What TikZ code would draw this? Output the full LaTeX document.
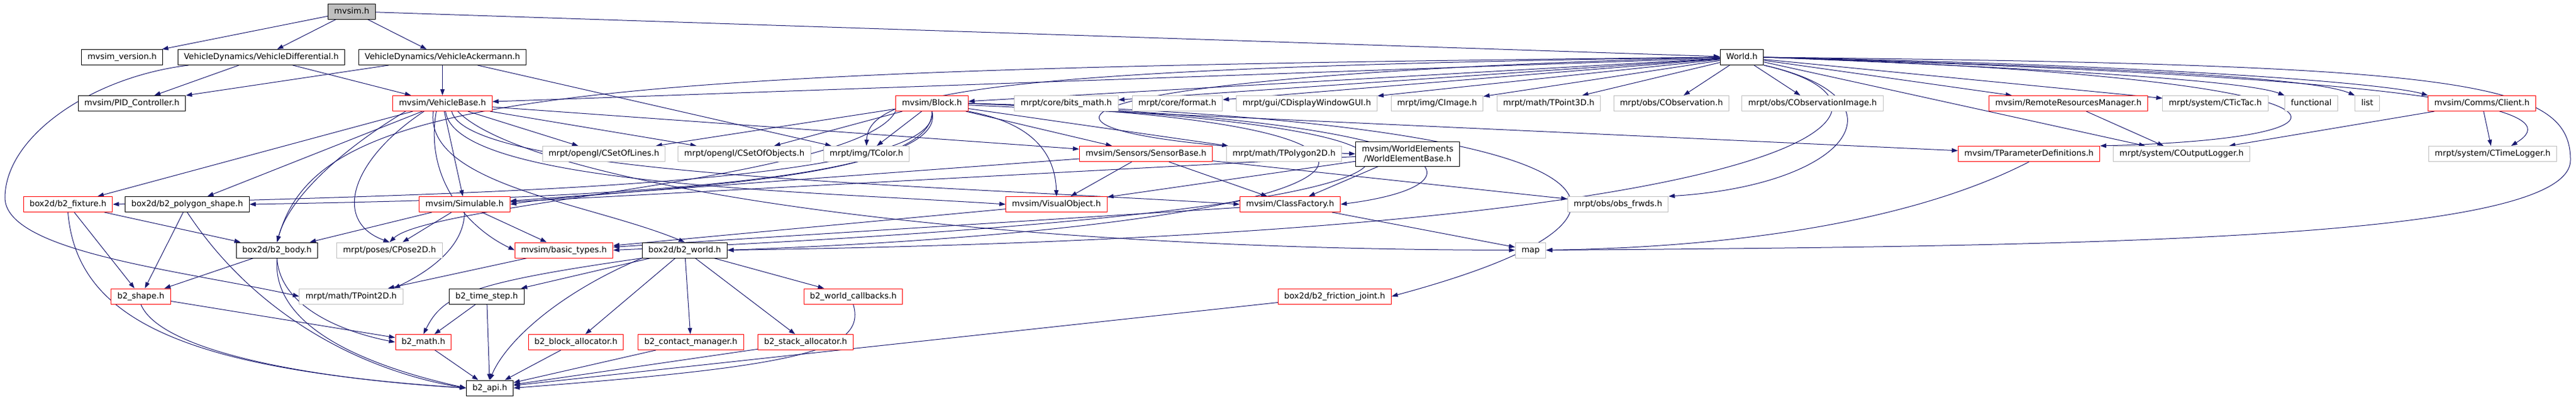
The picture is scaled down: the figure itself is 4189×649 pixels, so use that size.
\documentclass[tikz,border=0pt]{standalone}
\usepackage{fontspec}
\usepackage{xcolor}
\usepackage{tikz}
\usetikzlibrary{arrows.meta,backgrounds}
\newfontfamily\dejavu{DejaVu Sans}
\definecolor{edgeblue}{HTML}{191970}
\definecolor{extgray}{HTML}{BFBFBF}
\definecolor{truncred}{HTML}{FF0000}
\tikzset{
  file/.style={draw=black, fill=white, rectangle, line width=1pt,
    minimum height=25pt, inner xsep=10pt, inner ysep=0pt,
    text height=10pt, text depth=3pt,
    font=\dejavu\fontsize{13.3pt}{16pt}\selectfont},
  rootfile/.style={file, fill=extgray},
  redfile/.style={file, draw=truncred},
  extfile/.style={file, draw=extgray},
  dep/.style={draw=edgeblue, line width=1pt, -{Triangle[length=10pt,width=7pt]}}
}

\begin{document}
\begin{tikzpicture}[x=1pt,y=-1pt]
\useasboundingbox (0,0) rectangle (4189,649);
% row 0
\node[rootfile] (mvsim) at (572,18.5) {mvsim.h};
% row 1
\node[file] (version) at (198.5,93) {mvsim\_version.h};
\node[file] (vdiff) at (425,93) {VehicleDynamics/VehicleDifferential.h};
\node[file] (vacker) at (719.5,93) {VehicleDynamics/VehicleAckermann.h};
\node[file] (world) at (2832.5,93) {World.h};
% row 2
\node[file] (pid) at (214.5,168) {mvsim/PID\_Controller.h};
\node[redfile] (vbase) at (719.5,168) {mvsim/VehicleBase.h};
\node[redfile] (block) at (1515.5,168) {mvsim/Block.h};
\node[extfile] (bitsmath) at (1734,168) {mrpt/core/bits\_math.h};
\node[extfile] (format) at (1914.5,168) {mrpt/core/format.h};
\node[extfile] (cdisplay) at (2125,168) {mrpt/gui/CDisplayWindowGUI.h};
\node[extfile] (cimage) at (2337,168) {mrpt/img/CImage.h};
\node[extfile] (tpoint3d) at (2518.5,168) {mrpt/math/TPoint3D.h};
\node[extfile] (cobs) at (2718,168) {mrpt/obs/CObservation.h};
\node[extfile] (cobsimg) at (2947.5,168) {mrpt/obs/CObservationImage.h};
\node[redfile] (remote) at (3363.5,168) {mvsim/RemoteResourcesManager.h};
\node[extfile] (tictac) at (3602.5,168) {mrpt/system/CTicTac.h};
\node[extfile] (functional) at (3758.5,168) {functional};
\node[extfile] (list) at (3849.5,168) {list};
\node[redfile] (client) at (4036,168) {mvsim/Comms/Client.h};
% row 3
\node[extfile] (setlines) at (982,250) {mrpt/opengl/CSetOfLines.h};
\node[extfile] (setobjs) at (1210.5,250) {mrpt/opengl/CSetOfObjects.h};
\node[extfile] (tcolor) at (1409,250) {mrpt/img/TColor.h};
\node[redfile] (sensor) at (1863.5,250) {mvsim/Sensors/SensorBase.h};
\node[extfile] (tpoly) at (2088,250) {mrpt/math/TPolygon2D.h};
\node[file, align=center, text height=, text depth=, minimum height=40pt] (welem) at (2289,250) {mvsim/WorldElements\\/WorldElementBase.h};
\node[redfile] (tparam) at (3299.5,250) {mvsim/TParameterDefinitions.h};
\node[extfile] (outlog) at (3547.5,250) {mrpt/system/COutputLogger.h};
\node[extfile] (timelog) at (4053.5,250) {mrpt/system/CTimeLogger.h};
% row 4
\node[redfile] (fixture) at (110.5,332) {box2d/b2\_fixture.h};
\node[file] (polyshape) at (304.5,332) {box2d/b2\_polygon\_shape.h};
\node[redfile] (simulable) at (755.5,332) {mvsim/Simulable.h};
\node[redfile] (visual) at (1718,332) {mvsim/VisualObject.h};
\node[redfile] (classfac) at (2098,332) {mvsim/ClassFactory.h};
\node[extfile] (obsfrwds) at (2631,332) {mrpt/obs/obs\_frwds.h};
% row 5
\node[file] (body) at (450.5,406.5) {box2d/b2\_body.h};
\node[extfile] (pose2d) at (633.5,406.5) {mrpt/poses/CPose2D.h};
\node[redfile] (basictypes) at (917,406.5) {mvsim/basic\_types.h};
\node[file] (b2world) at (1113.5,406.5) {box2d/b2\_world.h};
\node[extfile] (map) at (2489,406.5) {map};
% row 6
\node[redfile] (shape) at (229,481.5) {b2\_shape.h};
\node[extfile] (tpoint2d) at (571,481.5) {mrpt/math/TPoint2D.h};
\node[file] (timestep) at (791.5,481.5) {b2\_time\_step.h};
\node[redfile] (callbacks) at (1387.5,481.5) {b2\_world\_callbacks.h};
\node[redfile] (friction) at (2170.5,481.5) {box2d/b2\_friction\_joint.h};
% row 7
\node[redfile] (math) at (688.5,556) {b2\_math.h};
\node[redfile] (blockalloc) at (936.5,556) {b2\_block\_allocator.h};
\node[redfile] (contact) at (1123.5,556) {b2\_contact\_manager.h};
\node[redfile] (stackalloc) at (1310,556) {b2\_stack\_allocator.h};
% row 8
\node[file] (api) at (796.5,630.5) {b2\_api.h};
\coordinate (mapbend) at (4180,260);

\begin{scope}[on background layer]
% mvsim.h
\draw[dep] (mvsim) -- (version);
\draw[dep] (mvsim) -- (vdiff);
\draw[dep] (mvsim) -- (vacker);
\draw[dep] (mvsim) -- (world);
% vehicle dynamics
\draw[dep] (vdiff) -- (pid);
\draw[dep] (vdiff) -- (vbase);
\draw[dep] ([xshift=18pt]vdiff.south west) .. controls (150,125) and (10,220) .. (8,320)
  .. controls (6,410) and (300,440) .. (tpoint2d.west);
\draw[dep] (vacker) -- (pid);
\draw[dep] (vacker) -- (vbase);
\draw[dep] (vacker) -- (tcolor);
% World.h
\draw[dep] (world) -- (vbase);
\draw[dep] (world) -- (block);
\draw[dep] (world) -- (bitsmath);
\draw[dep] (world) -- (format);
\draw[dep] (world) -- (cdisplay);
\draw[dep] (world) -- (cimage);
\draw[dep] (world) -- (tpoint3d);
\draw[dep] (world) -- (cobs);
\draw[dep] (world) -- (cobsimg);
\draw[dep] (world) -- (remote);
\draw[dep] (world) -- (tictac);
\draw[dep] (world.east) .. controls (3300,110) and (3650,130) .. (functional.north west);
\draw[dep] (world.east) .. controls (3400,108) and (3760,125) .. (list.north west);
\draw[dep] (world.east) .. controls (3500,105) and (3880,135) .. (client.north west);
\draw[dep] (world) -- (outlog);
\draw[dep] (world.west) .. controls (1600,110) and (1412,150) .. (tcolor.north);
\draw[dep] (world.west) .. controls (900,112) and (520,150) .. (body.north);
\draw[dep] (world.west) .. controls (1600,125) and (1560,225) .. (welem.west);
\draw[dep] (world.south east) .. controls (3150,170) and (3000,380) .. (b2world.east);
\draw[dep] (world.south east) .. controls (3110,160) and (3010,300) .. (obsfrwds.north east);
\draw[dep] (world.east) .. controls (3880,125) and (3900,225) .. (tparam.north east);
\draw[dep] (world.east) .. controls (4100,130) and (4160,190) .. ([xshift=30pt]timelog.north);
\draw[dep] (world.east) .. controls (4000,105) and (4180,130) .. (mapbend)
  .. controls (4180,390) and (3400,400) .. (map.east);
% Block.h
\draw[dep] (block) -- (setlines);
\draw[dep] (block) -- (setobjs);
\draw[dep] (block) -- (tcolor);
\draw[dep] (block) -- (sensor);
\draw[dep] (block) -- (tpoly);
\draw[dep] (block) -- (tparam);
\draw[dep] (block.south east) .. controls (1680,200) and (1716,250) .. (visual.north);
\draw[dep] (block.east) .. controls (2400,195) and (2430,300) .. (classfac.east);
\draw[dep] (block.east) .. controls (2460,200) and (2300,365) .. (b2world.east);
\draw[dep] (block.east) .. controls (2520,205) and (2520,340) .. (basictypes.east);
\draw[dep] (block.east) .. controls (2620,195) and (2790,340) .. (friction.east);
\draw[dep] (block.south) .. controls (1520,300) and (1000,305) .. (simulable.east);
\draw[dep] (block.south) .. controls (1535,305) and (700,315) .. (fixture.east);
\draw[dep] (block.south) .. controls (1550,310) and (800,325) .. (polyshape.east);
\draw[dep] (block.south west) .. controls (1400,290) and (700,330) .. (pose2d.north);
% VehicleBase.h
\draw[dep] (vbase) -- (fixture);
\draw[dep] (vbase) -- (polyshape);
\draw[dep] (vbase) -- (simulable);
\draw[dep] (vbase) -- (setlines);
\draw[dep] (vbase) -- (setobjs);
\draw[dep] (vbase) -- (sensor);
\draw[dep] ([xshift=-60pt]vbase.south) .. controls (560,240) and (470,320) .. (body.north);
\draw[dep] ([xshift=-30pt]vbase.south) .. controls (570,260) and (540,360) .. (pose2d.north);
\draw[dep] ([xshift=-10pt]vbase.south) .. controls (690,290) and (760,370) .. (basictypes.west);
\draw[dep] ([xshift=-15pt]vbase.south) .. controls (690,300) and (960,330) .. (b2world.north);
\draw[dep] ([xshift=5pt]vbase.south) .. controls (740,300) and (1300,310) .. (visual.west);
\draw[dep] ([xshift=15pt]vbase.south) .. controls (760,285) and (1500,300) .. (classfac.west);
\draw[dep] ([xshift=25pt]vbase.south) .. controls (850,290) and (1500,405) .. (map.west);
% Simulable.h, sensors, elements
\draw[dep] (simulable) -- (basictypes);
\draw[dep] (simulable) -- (body);
\draw[dep] (simulable) -- (pose2d);
\draw[dep] (simulable) .. controls (755,400) and (700,440) .. ([xshift=-15pt]tpoint2d.north east);
\draw[dep] (sensor) -- (visual);
\draw[dep] (sensor) -- (classfac);
\draw[dep] (sensor) -- (simulable);
\draw[dep] (sensor) -- (obsfrwds);
\draw[dep] (welem) -- (visual);
\draw[dep] (welem) -- (classfac);
\draw[dep] (welem) -- (simulable);
\draw[dep] (visual) -- (basictypes);
\draw[dep] (classfac) -- (basictypes);
\draw[dep] (classfac) -- (map);
\draw[dep] (basictypes) -- (tpoint2d);
\draw[dep] (tparam.south) .. controls (3150,340) and (2900,400) .. (map.east);
\draw[dep] (remote) -- (outlog);
\draw[dep] (client) -- (outlog);
\draw[dep] (client) -- (timelog);
% box2d
\draw[dep] (fixture) -- (body);
\draw[dep] (fixture) -- (shape);
\draw[dep] (fixture.south) .. controls (125,520) and (300,600) .. (api.west);
\draw[dep] (polyshape) -- (shape);
\draw[dep] (polyshape.south) .. controls (420,520) and (600,605) .. (api.west);
\draw[dep] (body) -- (shape);
\draw[dep] (body.south) .. controls (455,500) and (560,540) .. (math.west);
\draw[dep] (body.south) .. controls (440,540) and (620,600) .. (api.west);
\draw[dep] (shape) -- (math);
\draw[dep] (shape.south) .. controls (260,570) and (500,615) .. (api.west);
\draw[dep] (b2world) -- (timestep);
\draw[dep] (b2world.south west) .. controls (760,460) and (720,480) .. (math.north);
\draw[dep] (b2world.south west) .. controls (900,480) and (820,560) .. (api.north);
\draw[dep] (b2world) -- (blockalloc);
\draw[dep] (b2world) -- (contact);
\draw[dep] (b2world) -- (stackalloc);
\draw[dep] (b2world) -- (callbacks);
\draw[dep] (timestep) -- (math);
\draw[dep] (timestep) -- (api);
\draw[dep] (math) -- (api);
\draw[dep] (blockalloc) -- (api);
\draw[dep] (contact) -- (api);
\draw[dep] (stackalloc) -- (api);
\draw[dep] (callbacks.south) .. controls (1410,570) and (1300,595) .. (api.east);
\draw[dep] (friction) -- (api);
\end{scope}
\end{tikzpicture}
\end{document}
